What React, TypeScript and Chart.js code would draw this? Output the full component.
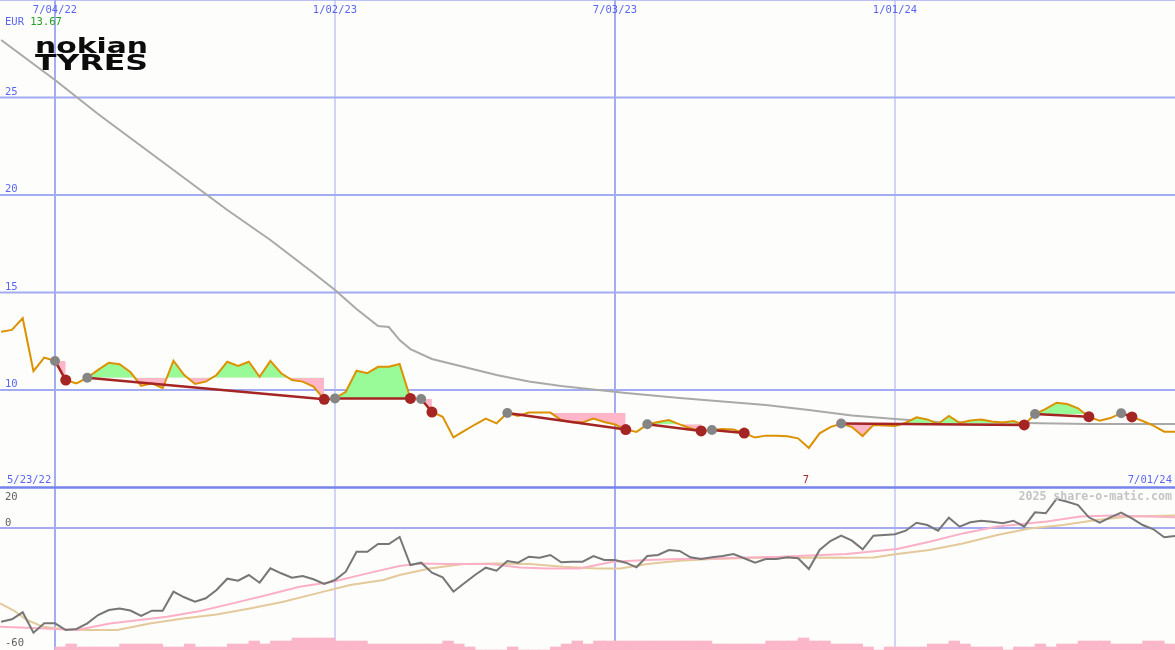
import React, { useEffect, useRef } from 'react';
import { Chart, registerables } from 'chart.js';

Chart.register(...registerables);

const W = 1175;
const H = 650;

// weekly data, week 0 = 7/04/22
const FIRST_WEEK = -5;
const price = [
  12.99, 13.08, 13.68, 10.97, 11.66, 11.49, 10.51, 10.34, 10.63, 11.03,
  11.40, 11.32, 10.92, 10.21, 10.34, 10.09, 11.50, 10.77, 10.31, 10.43,
  10.77, 11.45, 11.23, 11.45, 10.68, 11.49, 10.86, 10.51, 10.43, 10.17,
  9.52, 9.57, 9.91, 10.99, 10.86, 11.19, 11.19, 11.33, 9.57, 9.54,
  8.87, 8.63, 7.57, 7.90, 8.23, 8.53, 8.29, 8.82, 8.67, 8.84,
  8.84, 8.84, 8.46, 8.34, 8.34, 8.54, 8.36, 8.23, 7.97, 7.85,
  8.24, 8.36, 8.46, 8.24, 8.04, 7.90, 7.95, 8.00, 7.97, 7.79,
  7.56, 7.66, 7.66, 7.63, 7.52, 7.03, 7.78, 8.10, 8.28, 8.10,
  7.64, 8.21, 8.18, 8.15, 8.32, 8.60, 8.49, 8.26, 8.67, 8.31,
  8.44, 8.49, 8.38, 8.33, 8.41, 8.21, 8.77, 9.03, 9.35, 9.28,
  9.06, 8.63, 8.43, 8.56, 8.81, 8.62, 8.41, 8.17, 7.86, 7.86,
];

const oscillator = [
  -46.85, -45.65, -42.15, -52.35, -47.65, -47.65, -51, -50.5, -47.65, -43.5,
  -41, -40.25, -41.25, -44, -41.35, -41.35, -31.85, -34.65, -36.85, -35.15,
  -31, -25.35, -26.35, -23.5, -27.35, -20.15, -22.65, -24.85, -24, -25.65,
  -28, -26, -21.85, -11.85, -11.85, -8, -8, -4.5, -18.5, -17.35,
  -22.35, -24.65, -31.85, -27.65, -23.5, -19.85, -21.35, -16.5, -17.35, -14.35,
  -14.85, -13.5, -17.15, -16.85, -16.85, -14, -16, -16, -17.35, -19.65,
  -14, -13.5, -11, -11.5, -14.65, -15.5, -14.65, -14, -13, -15.15,
  -17.35, -15.5, -15.5, -14.65, -15.15, -20.5, -11, -6.5, -3.85, -6.35,
  -10.65, -3.85, -3.5, -3.15, -1.35, 2.65, 1.5, -1.35, 5.15, 0.65,
  2.85, 3.65, 3.15, 2.35, 3.65, 0.65, 7.85, 7.35, 14.5, 13.15,
  11.5, 5.35, 2.65, 5.35, 7.65, 4.85, 1.5, -0.65, -4.65, -4,
];

// long moving average of price
const maWeeks = [-5, 0, 4, 8, 12, 16, 20, 24, 26, 28, 30, 31, 32, 33, 35, 38, 41, 44, 47, 50, 53, 58, 62, 66, 70, 74, 78, 82, 90, 96, 104];
const maValues = [27.95, 25.9, 24.15, 22.51, 20.87, 19.23, 17.69, 16.0, 15.13, 14.15, 13.28, 13.23, 12.56, 12.1, 11.59, 11.18, 10.77, 10.44, 10.21, 10.03, 9.85, 9.59, 9.41, 9.23, 8.97, 8.69, 8.51, 8.36, 8.31, 8.26, 8.26];

// oscillator averages
const pinkWeeks = [-5.1, -2, 2, 5.1, 10.4, 13.5, 16.5, 19.7, 22.7, 25.8, 29, 32, 33.9, 36.4, 40.4, 43.2, 45.7, 48.7, 51.8, 55, 58, 61.1, 64.3, 67.3, 73.5, 78.2, 81.2, 84.3, 87.5, 92.1, 95.2, 98.2, 104];
const pinkValues = [-49.4, -50, -51, -47.7, -44.4, -41.5, -37.7, -33.5, -29.4, -26.9, -22.7, -19, -17.7, -18, -18, -19.7, -20.2, -20.2, -16.9, -16, -15.5, -15.2, -14.7, -14.4, -13, -10.5, -6.9, -2.7, 0.7, 3.2, 5.7, 6.2, 5.4];
const tanWeeks = [-5.1, -3.9, -2.6, -1.1, 1.1, 3, 5.8, 8.8, 11.9, 15, 18.1, 21.2, 24.3, 27.4, 30.5, 32, 34.8, 37.9, 41, 44.1, 47.2, 50.3, 52.5, 55, 58, 61.1, 64.3, 67.3, 73.5, 76, 78.2, 81.2, 84.3, 87.5, 90.5, 93.6, 96.7, 99.8, 104];
const tanValues = [-37.7, -41, -46, -49.4, -50.7, -51, -51, -47.7, -45.2, -43.2, -40.2, -36.9, -32.7, -28.5, -26, -23.5, -20.2, -18, -17.7, -18, -19.4, -20.2, -20.2, -18, -16.4, -15.5, -15, -14.7, -14.9, -14.7, -13, -11, -7.7, -3.5, -0.2, 1.5, 4, 5.7, 6.2];

// volume per week, starting week 0
const volume = [
  3, 6, 3, 3, 3, 3, 6, 6, 6, 6,
  3, 3, 6, 3, 3, 3, 6, 6, 9, 6,
  9, 9, 12, 12, 12, 12, 9, 9, 9, 6,
  6, 6, 6, 6, 6, 6, 9, 6, 3, 0,
  0, 0, 3, 0, 0, 0, 3, 6, 9, 6,
  9, 9, 9, 9, 9, 9, 9, 9, 9, 9,
  9, 6, 6, 6, 6, 6, 9, 9, 9, 12,
  9, 9, 6, 6, 6, 3, 0, 3, 3, 3,
  3, 6, 6, 9, 6, 3, 3, 3, 0, 3,
  3, 6, 3, 6, 6, 9, 9, 9, 6, 6,
  6, 9, 9, 6,
];

// trades: entry week -> exit week
const tradeEntry = [0, 3, 26, 34, 42, 55, 61, 73, 91, 99];
const tradeExit = [1, 25, 33, 35, 53, 60, 64, 90, 96, 100];

const dateTickWeeks = [0, 26, 52, 78];
const dateTickLabels = ['7/04/22', '1/02/23', '7/03/23', '1/01/24'];
const dateTickWidths = [2, 1, 2, 1];
const priceTicks = [25, 20, 15, 10];
const oscTicks = [20, 0, -60];

const BLUE_GRID = '#a3abf2';
const BLUE_TEXT = '#5a66f0';
const MONO = '"DejaVu Sans Mono", monospace';

function fitText(ctx: CanvasRenderingContext2D, text: string, font: string, x: number, baseline: number, width: number) {
  ctx.save();
  ctx.font = font;
  const m = ctx.measureText(text);
  ctx.translate(x, baseline);
  ctx.scale(width / m.width, 1);
  ctx.textAlign = 'left';
  ctx.textBaseline = 'alphabetic';
  ctx.fillText(text, 0, 0);
  ctx.restore();
}

const decorPlugin = {
  id: 'decor',
  beforeDraw(chart: any) {
    const ctx = chart.ctx;
    ctx.save();
    ctx.fillStyle = '#fdfefc';
    ctx.fillRect(0, 0, W, H);
    ctx.restore();
  },
  beforeDatasetsDraw(chart: any) {
    const ctx = chart.ctx as CanvasRenderingContext2D;
    const xs = chart.scales.x;
    const ys = chart.scales.y;
    const yo = chart.scales.yo;
    ctx.save();
    ctx.strokeStyle = BLUE_GRID;
    for (const v of priceTicks) {
      const y = ys.getPixelForValue(v);
      ctx.lineWidth = 2;
      ctx.beginPath();
      ctx.moveTo(0, y);
      ctx.lineTo(W, y);
      ctx.stroke();
    }
    ctx.lineWidth = 1.5;
    ctx.beginPath();
    ctx.moveTo(0, ys.getPixelForValue(30));
    ctx.lineTo(W, ys.getPixelForValue(30));
    ctx.stroke();
    ctx.lineWidth = 2;
    const y0 = yo.getPixelForValue(0);
    ctx.beginPath();
    ctx.moveTo(0, y0);
    ctx.lineTo(W, y0);
    ctx.stroke();
    dateTickWeeks.forEach((wk, i) => {
      const x = xs.getPixelForValue(wk);
      ctx.lineWidth = dateTickWidths[i];
      ctx.beginPath();
      ctx.moveTo(x, 0);
      ctx.lineTo(x, H);
      ctx.stroke();
    });
    const yd = ys.getPixelForValue(5);
    ctx.strokeStyle = '#7483ee';
    ctx.lineWidth = 2.5;
    ctx.beginPath();
    ctx.moveTo(0, yd);
    ctx.lineTo(W, yd);
    ctx.stroke();
    ctx.restore();
  },
  afterDraw(chart: any) {
    const ctx = chart.ctx as CanvasRenderingContext2D;
    const xs = chart.scales.x;
    const ys = chart.scales.y;
    const yo = chart.scales.yo;
    ctx.save();
    ctx.font = '10.5px ' + MONO;
    ctx.textBaseline = 'alphabetic';
    ctx.fillStyle = BLUE_TEXT;
    ctx.textAlign = 'center';
    dateTickWeeks.forEach((wk, i) => {
      ctx.fillText(dateTickLabels[i], xs.getPixelForValue(wk), 13);
    });
    ctx.textAlign = 'left';
    ctx.fillText('EUR', 5, 25);
    const ew = ctx.measureText('EUR ').width;
    ctx.fillStyle = '#22a022';
    ctx.fillText('13.67', 5 + ew, 25);
    ctx.fillStyle = BLUE_TEXT;
    for (const v of priceTicks) {
      ctx.fillText(String(v), 5, ys.getPixelForValue(v) - 3);
    }
    ctx.fillText('5/23/22', 7, 483);
    ctx.textAlign = 'right';
    ctx.fillText('7/01/24', 1172, 483);
    ctx.textAlign = 'center';
    ctx.fillStyle = '#a52a2a';
    ctx.fillText('7', 806, 483);
    ctx.textAlign = 'left';
    ctx.fillStyle = '#606060';
    oscTicks.forEach((v) => {
      const y = yo.getPixelForValue(v);
      const by = v === 20 ? y + 11.5 : y - 2.5;
      ctx.fillText(String(v), 5, by);
    });
    ctx.font = 'bold 11.6px ' + MONO;
    ctx.fillStyle = '#c4c4c4';
    ctx.textAlign = 'right';
    ctx.fillText('2025 share-o-matic.com', 1172, 500);
    ctx.fillStyle = '#0c0c0c';
    fitText(ctx, 'nokian', 'bold 22px "DejaVu Sans"', 35, 52.5, 113);
    fitText(ctx, 'TYRES', 'bold 21px "DejaVu Sans"', 35, 69.5, 113);
    ctx.restore();
  },
};

export default function App() {
  const ref = useRef<HTMLCanvasElement>(null);

  useEffect(() => {
    const canvas = ref.current;
    if (!canvas) return;
    const priceAt = (k: number) => price[k - FIRST_WEEK];
    const pts = (weeks: number[], vals: number[]) => weeks.map((w, i) => ({ x: w, y: vals[i] }));
    const allWeeks = price.map((_, i) => i + FIRST_WEEK);

    const datasets: any[] = [];
    datasets.push({
      type: 'line', data: tradeExit.map((k) => ({ x: k, y: priceAt(k) })), showLine: false,
      pointRadius: 5.5, pointBackgroundColor: '#a52525', pointBorderWidth: 0, yAxisID: 'y', order: 0,
    });
    datasets.push({
      type: 'line', data: tradeEntry.map((k) => ({ x: k, y: priceAt(k) })), showLine: false,
      pointRadius: 5, pointBackgroundColor: '#858585', pointBorderWidth: 0, yAxisID: 'y', order: 1,
    });
    tradeEntry.forEach((e, i) => {
      const x = tradeExit[i];
      datasets.push({
        type: 'line', data: [{ x: e, y: priceAt(e) }, { x, y: priceAt(x) }],
        borderColor: '#a52525', borderWidth: 2.5, pointRadius: 0, yAxisID: 'y', order: 3,
      });
    });
    datasets.push({
      type: 'line', data: pts(allWeeks, price), borderColor: '#dc9200', borderWidth: 2,
      pointRadius: 0, yAxisID: 'y', order: 4,
    });
    tradeEntry.forEach((e, i) => {
      const x = tradeExit[i];
      const seg: { x: number; y: number }[] = [];
      for (let k = e; k <= x; k++) seg.push({ x: k, y: priceAt(k) });
      datasets.push({
        type: 'line', data: seg, borderColor: 'rgba(0,0,0,0)', borderWidth: 1, pointRadius: 0,
        fill: { target: { value: priceAt(e) }, above: '#98fb98', below: '#ffb6c8' },
        yAxisID: 'y', order: 5,
      });
    });
    datasets.push({
      type: 'line', data: pts(maWeeks, maValues), borderColor: '#a9a9a9', borderWidth: 2,
      pointRadius: 0, yAxisID: 'y', order: 6,
    });
    datasets.push({
      type: 'line', data: pts(allWeeks, oscillator), borderColor: '#767676', borderWidth: 2,
      pointRadius: 0, yAxisID: 'yo', order: 7,
    });
    datasets.push({
      type: 'line', data: pts(pinkWeeks, pinkValues), borderColor: '#fbb0c6', borderWidth: 2,
      pointRadius: 0, yAxisID: 'yo', order: 8,
    });
    datasets.push({
      type: 'line', data: pts(tanWeeks, tanValues), borderColor: '#e4c99b', borderWidth: 2,
      pointRadius: 0, yAxisID: 'yo', order: 9,
    });
    datasets.push({
      type: 'bar', data: volume.map((v, i) => ({ x: i + 0.5, y: v })), backgroundColor: '#fbb6c9',
      borderWidth: 0, barPercentage: 1, categoryPercentage: 1, yAxisID: 'yv', order: 10,
    });

    const pxPerWeek = (W - 55) / 104;
    const chart = new Chart(canvas, {
      type: 'line',
      data: { datasets },
      options: {
        responsive: false,
        animation: false,
        events: [],
        layout: { padding: 0, autoPadding: false },
        plugins: { legend: { display: false }, tooltip: { enabled: false } },
        elements: { line: { tension: 0 } },
        scales: {
          x: { type: 'linear', display: false, min: -55 / pxPerWeek, max: 104, offset: false },
          y: { type: 'linear', display: false, min: 30 - H / 19.5, max: 30 },
          yo: { type: 'linear', display: false, min: -61, max: 264 },
          yv: { type: 'linear', display: false, min: 0, max: H },
        },
      },
      plugins: [decorPlugin],
    } as any);
    return () => chart.destroy();
  }, []);

  return (
    <div style={{ position: 'absolute', left: 0, top: 0, width: W, height: H }}>
      <canvas ref={ref} width={W} height={H} style={{ display: 'block', width: W, height: H }} />
    </div>
  );
}
